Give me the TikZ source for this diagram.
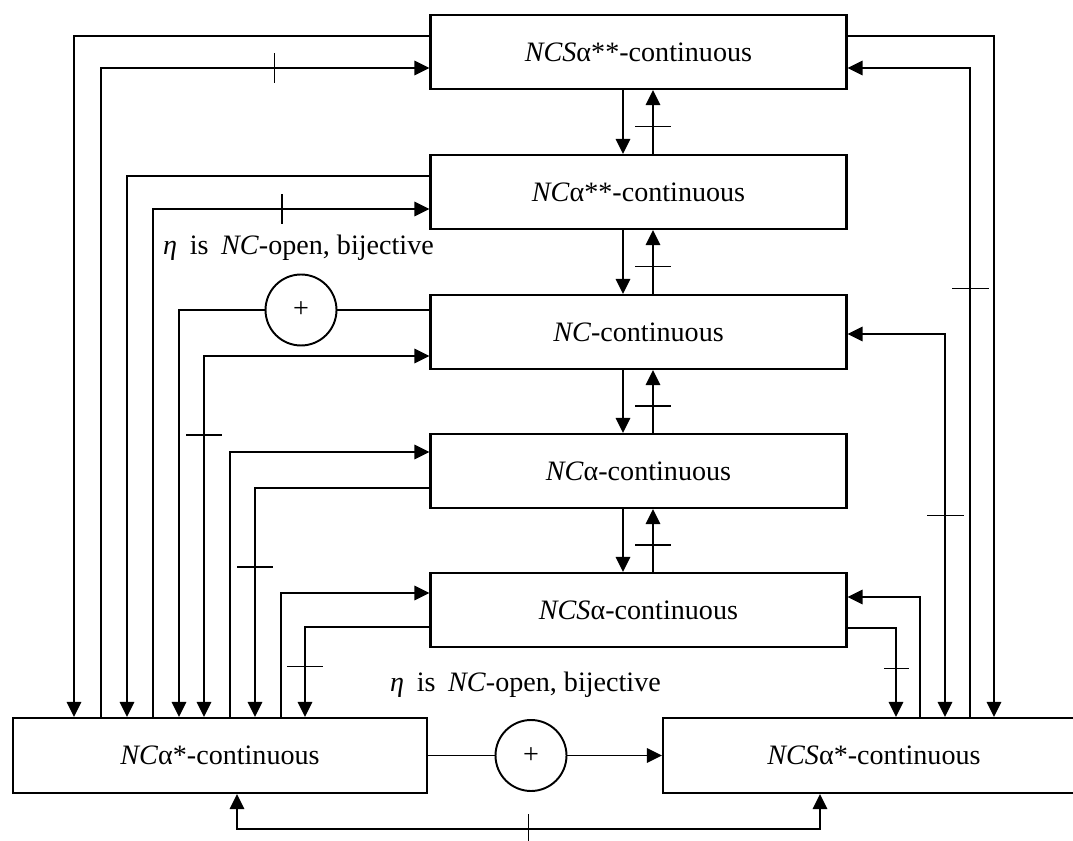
\documentclass[tikz,border=0pt]{standalone}
\usepackage{fontspec}
\setmainfont{Liberation Serif}
\usetikzlibrary{positioning, calc, arrows.meta}

\begin{document}
\begin{tikzpicture}[x=0.02cm, y=-0.02cm, line width=1pt, font=\fontsize{16}{19}\selectfont,
    box/.style={draw, line width=1.3pt, rectangle, minimum width=8.32cm, minimum height=1.48cm, inner sep=0pt},
    plus/.style={draw, line width=1.1pt, circle, minimum size=1.42cm, inner sep=0pt},
    arr/.style={-{Triangle[length=0.3cm, width=0.29cm]}},
    both/.style={{Triangle[length=0.3cm, width=0.29cm]}-{Triangle[length=0.3cm, width=0.29cm]}},
    htick/.style={fill, inner sep=0pt, outer sep=0pt, minimum width=0.74cm, minimum height=1pt},
    vtick/.style={fill, inner sep=0pt, outer sep=0pt, minimum height=0.62cm, minimum width=1pt}]
    \useasboundingbox (0,0) rectangle (1073,841);

    % Define the boxes
    \node (B1) [box] at (638.5,52) {\textit{NCS}α**-continuous};
    \node (B2) [box] at (638.5,192) {\textit{NC}α**-continuous};
    \node (B3) [box] at (638.5,332) {\textit{NC}-continuous};
    \node (B4) [box] at (638.5,471) {\textit{NC}α-continuous};
    \node (B5) [box] at (638.5,610) {\textit{NCS}α-continuous};
    \node (B6) [box, minimum width=8.28cm, minimum height=1.5cm] at (220,755.5) {\textit{NC}α*-continuous};
    \node (B7) [box, minimum width=8.44cm, minimum height=1.5cm] at (874,755.5) {\textit{NCS}α*-continuous};

    % Circles and conditions
    \node (P1) [plus] at (301,310) {\raisebox{-0.2em}{+}};
    \node (P2) [plus] at (531,755.5) {\raisebox{-0.2em}{+}};
    \node (N1) at (298.5,248) {\textit{η}\hspace{0.45em}is\hspace{0.45em}\textit{NC}-open, bijective};
    \node (N2) at (525.5,685) {\textit{η}\hspace{0.45em}is\hspace{0.45em}\textit{NC}-open, bijective};

    % Lanes
    \foreach \n/\x in {1/74, 2/101, 3/127, 4/153, 5/179, 6/204, 7/230, 8/255, 9/281, 10/305}
        \coordinate (L\n) at (\x,0);
    \foreach \n/\x in {1/896, 2/920, 3/945, 4/970, 5/994}
        \coordinate (R\n) at (\x,0);

    % Arrows between the stacked boxes
    \foreach \a/\b in {B1/B2, B2/B3, B3/B4, B4/B5} {
        \draw[arr] ([xshift=-0.31cm]\a.south) -- ([xshift=-0.31cm]\b.north);
        \draw[arr] ([xshift=0.29cm]\b.north) -- node[htick, pos=0.43] {} ([xshift=0.29cm]\a.south);
    }

    % Left side
    \draw[arr] ($(B1.west)+(0,-16)$) -| (B6.north -| L1);
    \draw[arr] (B6.north -| L2) |- node[vtick, pos=0.764] {} ($(B1.west)+(0,16)$);
    \draw[arr] ($(B2.west)+(0,-16)$) -| (B6.north -| L3);
    \draw[arr] (B6.north -| L4) |- node[vtick, pos=0.734] {} ($(B2.west)+(0,17)$);
    \draw ($(B3.west)+(0,-22)$) -- (P1);
    \draw[arr] (P1) -| (B6.north -| L5);
    \draw[both] ($(B3.west)+(0,24)$) -| node[htick, pos=0.609] {} (B6.north -| L6);
    \draw[arr] (B6.north -| L7) |- ($(B4.west)+(0,-19)$);
    \draw[arr] ($(B4.west)+(0,17)$) -| node[htick, pos=0.672] {} (B6.north -| L8);
    \draw[arr] (B6.north -| L9) |- ($(B5.west)+(0,-17)$);
    \draw[arr] ($(B5.west)+(0,17)$) -| node[htick, pos=0.72] {} (B6.north -| L10);

    % Right side
    \draw[arr] ($(B1.east)+(0,-16)$) -| (B7.north -| R5);
    \draw[arr] (B7.north -| R4) |- node[htick, pos=0.33] {} ($(B1.east)+(0,16)$);
    \draw[both] ($(B3.east)+(0,2)$) -| node[htick, pos=0.737] {} (B7.north -| R3);
    \draw[arr] (B7.north -| R2) |- ($(B5.east)+(0,-13)$);
    \draw[arr] ($(B5.east)+(0,18)$) -| node[htick, minimum width=0.5cm, pos=0.728] {} (B7.north -| R1);

    % Bottom
    \draw (B6.east) -- (P2);
    \draw[arr] (P2) -- (B7.west);
    \coordinate (lb) at (237,829);
    \coordinate (lr) at (820,829);
    \draw[both] (B6.south -| lb) -- (lb) -- node[vtick, pos=0.5] {} (lr) -- (B7.south -| lr);
\end{tikzpicture}
\end{document}
